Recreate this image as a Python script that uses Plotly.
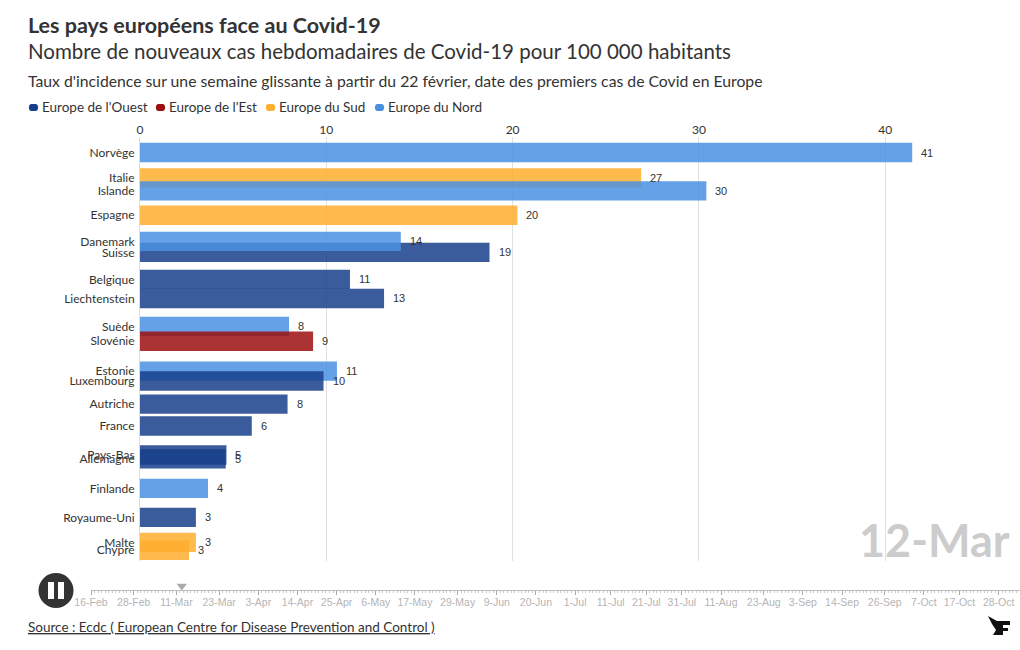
import plotly.graph_objects as go

countries = ["Norvège","Italie","Islande","Espagne","Suisse","Danemark","Belgique","Liechtenstein","Suède","Slovénie","Estonie","Luxembourg","Autriche","France","Pays-Bas","Allemagne","Finlande","Royaume-Uni","Malte","Chypre"]
regions = ["Nord","Sud","Nord","Sud","Ouest","Nord","Ouest","Ouest","Nord","Est","Nord","Ouest","Ouest","Ouest","Ouest","Ouest","Nord","Ouest","Sud","Sud"]
incidence = [41.45,26.9,30.4,20.26,18.76,14.0,11.27,13.1,8.0,9.29,10.57,9.85,7.92,6.0,4.64,4.6,3.65,3.0,3.0,2.63]
labels = [41,27,30,20,19,14,11,13,8,9,11,10,8,6,5,5,4,3,3,3]
animated_rank = [1.0,2.16,2.75,3.86,5.55,5.05,6.78,7.65,8.92,9.6,10.96,11.41,12.46,13.46,14.78,14.96,16.3,17.62,18.76,19.12]
region_order = ["Ouest","Est","Sud","Nord"]
region_names = {"Ouest":"Europe de l'Ouest","Est":"Europe de l'Est","Sud":"Europe du Sud","Nord":"Europe du Nord"}
region_colors = {"Ouest":"#17408b","Est":"#9c0f0f","Sud":"#ffae2e","Nord":"#4a90e2"}
axis_ticks = [0,10,20,30,40]
timeline_dates = ["2020-02-16","2020-02-28","2020-03-11","2020-03-23","2020-04-03","2020-04-14","2020-04-25","2020-05-06","2020-05-17","2020-05-29","2020-06-09","2020-06-20","2020-07-01","2020-07-11","2020-07-21","2020-07-31","2020-08-11","2020-08-23","2020-09-03","2020-09-14","2020-09-26","2020-10-07","2020-10-17","2020-10-28"]
timeline_labels = ["16-Feb","28-Feb","11-Mar","23-Mar","3-Apr","14-Apr","25-Apr","6-May","17-May","29-May","9-Jun","20-Jun","1-Jul","11-Jul","21-Jul","31-Jul","11-Aug","23-Aug","3-Sep","14-Sep","26-Sep","7-Oct","17-Oct","28-Oct"]
current_date = "2020-03-12 12:00"
current_label = "12-Mar"

W, H = 1020, 650
FONT = "Lato, 'Noto Sans', sans-serif"
INK = "#333333"
px = lambda v: v / W
py = lambda v: 1 - v / H

fig = go.Figure()
for name, region, value, rank in zip(countries, regions, incidence, animated_rank):
    fig.add_trace(go.Bar(
        x=[value], y=[rank], name=name, orientation="h", width=0.88,
        marker=dict(color=region_colors[region], opacity=0.85, line=dict(width=0)),
        showlegend=False, hovertemplate=name + ": %{x:.1f}<extra></extra>"))

fig.add_trace(go.Scatter(x=[current_date], y=[0.6], xaxis="x2", yaxis="y2", mode="markers",
    marker=dict(symbol="triangle-down", size=9, color="#aaaaaa"), showlegend=False, hoverinfo="skip"))

annotations = []
for v, n, r in zip(incidence, labels, animated_rank):
    annotations.append(dict(x=v, y=r, xref="x", yref="y", text=str(n), showarrow=False, xanchor="left",
        xshift=7, font=dict(family="Liberation Sans", size=11, color="#333333")))

def ptext(x, y, text, size, color=INK, anchor="left", family=FONT):
    annotations.append(dict(x=px(x), y=py(y), xref="paper", yref="paper", text=text, showarrow=False,
        xanchor=anchor, yanchor="middle", font=dict(family=family, size=size, color=color)))

ptext(26, 25, "<b>Les pays européens face au Covid-19</b>", 21.5)
ptext(26, 51, "Nombre de nouveaux cas hebdomadaires de Covid-19 pour 100 000 habitants", 20.5)
ptext(26, 81, "Taux d'incidence sur une semaine glissante à partir du 22 février, date des premiers cas de Covid en Europe", 15.75)
ptext(1012, 540, "<b>" + current_label + "</b>", 45, color="#cccccc", anchor="right")
ptext(26, 627, "<u>Source : Ecdc ( European Centre for Disease Prevention and Control )</u>", 13.5)

def pill(x0, x1, y0, y1):
    r = (y1 - y0) / 2
    return (f"M {px(x0+r):.5f} {py(y0):.5f} L {px(x1-r):.5f} {py(y0):.5f} "
            f"C {px(x1):.5f} {py(y0):.5f} {px(x1):.5f} {py(y1):.5f} {px(x1-r):.5f} {py(y1):.5f} "
            f"L {px(x0+r):.5f} {py(y1):.5f} "
            f"C {px(x0):.5f} {py(y1):.5f} {px(x0):.5f} {py(y0):.5f} {px(x0+r):.5f} {py(y0):.5f} Z")

shapes = []
legend_x = [28, 155, 265, 374]
for key, lx in zip(region_order, legend_x):
    shapes.append(dict(type="path", xref="paper", yref="paper", path=pill(lx, lx+11, 104, 111),
        fillcolor=region_colors[key], line=dict(width=0)))
    ptext(lx+12, 107.5, region_names[key], 13.5)

shapes.append(dict(type="circle", xref="paper", yref="paper", x0=px(38.5), x1=px(73.5), y0=py(608), y1=py(573),
    fillcolor="#333333", line=dict(width=0)))
for a, b in [(48, 54), (58, 64)]:
    shapes.append(dict(type="rect", xref="paper", yref="paper", x0=px(a), x1=px(b), y0=py(599), y1=py(582),
        fillcolor="white", line=dict(width=0)))

def poly(points):
    return "M " + " L ".join(f"{px(x):.5f} {py(y):.5f}" for x, y in points) + " Z"

logo = [(988,616),(997,621),(1010,621),(1010,625),(1003,625),(1003,628),(1008,628),(1008,631),(1003,631),(1003,635),(993,635),(996,630),(992,624)]
shapes.append(dict(type="path", xref="paper", yref="paper", path=poly(logo), fillcolor="#111111", line=dict(width=0)))

fig.update_layout(
    width=W, height=H, autosize=False, paper_bgcolor="white", plot_bgcolor="white",
    margin=dict(l=0, r=0, t=0, b=0, autoexpand=False), barmode="overlay", showlegend=False,
    font=dict(family=FONT, color=INK),
    annotations=annotations, shapes=shapes,
    xaxis=dict(domain=[px(140), 1], range=[0, (1020-140)/18.63], side="top", anchor="y",
        tickmode="array", tickvals=axis_ticks, ticks="", showline=False, zeroline=False,
        gridcolor="#e0e0e0", gridwidth=1, tickfont=dict(family=FONT, size=12, color=INK)),
    yaxis=dict(domain=[py(561), py(137)], range=[19.61, 0.294], anchor="x", tickmode="array",
        tickvals=animated_rank, ticktext=countries, ticks="", showgrid=False, zeroline=False,
        ticklabelstandoff=2,
        showline=True, linecolor="#dddddd", tickfont=dict(family=FONT, size=12, color=INK)),
    xaxis2=dict(domain=[px(91), 1], range=["2020-02-16", "2020-11-03"], type="date", anchor="y2",
        tickmode="array", tickvals=timeline_dates, ticktext=timeline_labels, ticks="outside", ticklen=4,
        tickcolor="#aaaaaa", showline=True, linecolor="#bbbbbb", linewidth=1, showgrid=False, zeroline=False,
        ticklabelstandoff=-2,
        tickfont=dict(family="Liberation Sans", size=10.5, color="#b5b5b5"), tickangle=0,
        minor=dict(dtick=86400000, ticks="outside", ticklen=2, tickcolor="#cccccc", showgrid=False)),
    yaxis2=dict(domain=[py(590), py(580)], range=[0, 1.5], anchor="x2", visible=False, fixedrange=True),
)
fig.write_html("out.html", config=dict(displayModeBar=False),
    post_script="document.body.style.margin='0';document.body.style.overflow='hidden';")
